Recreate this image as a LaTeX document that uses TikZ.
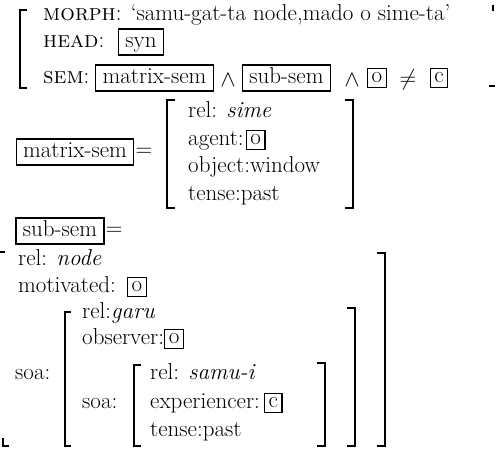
\RequirePackage{fix-cm}
\documentclass[tikz,border=0pt]{standalone}
\usetikzlibrary{positioning}

\begin{document}
\begin{tikzpicture}[x=1pt, y=-1pt,
      every node/.style = {font=\fontsize{23}{26}\selectfont},
      feat/.style = {anchor=west, inner sep=0pt, text height=15pt, text depth=5pt},
      tagbox/.style = {draw, line width=1.1pt, inner xsep=7pt, inner ysep=3pt, text height=15pt, text depth=5pt},
      refbox/.style = {draw, line width=1.1pt, inner xsep=4pt, inner ysep=3pt, text height=11pt, text depth=2pt},
      sym/.style = {inner sep=0pt},
      brack/.style = {line width=1.1pt}
      ]
      \useasboundingbox (0,0) rectangle (496,448);
      % top structure
      \node[feat] (morph) at (43,15) {\textsc{morph}: `samu-gat-ta node,mado o sime-ta'};
      \node[feat] (head) at (43,42) {\textsc{head}:};
      \node[tagbox] (syn) at (141,42) {syn};
      \node[feat] (sem) at (43,78) {\textsc{sem}:};
      \node[tagbox] (msemA) at (154.5,78) {matrix-sem};
      \node[sym] (andA) at (228,80) {$\wedge$};
      \node[tagbox] (ssemA) at (286.5,78) {sub-sem};
      \node[sym] (andB) at (352,80) {$\wedge$};
      \node[refbox] (oA) at (377,78) {o};
      \node[sym] (neq) at (408,80) {$\neq$};
      \node[refbox] (cA) at (439,78) {c};
      \draw[brack] (27,10) -| (20,88) -- (27,88);
      \draw[brack] (493,5) -- (493,11);
      \draw[brack] (489,86) -- (495,86);
      % matrix-sem
      \node[tagbox] (msemB) at (75,152) {matrix-sem};
      \node[sym, right=1pt of msemB] (eqA) {$=$};
      \node[feat] (relA) at (188,112) {rel: \textit{sime}};
      \node[feat] (agent) at (188,140) {agent:};
      \node[refbox, right=2pt of agent] (oB) {o};
      \node[feat] (object) at (188,167) {object:window};
      \node[feat] (tenseA) at (188,195) {tense:past};
      \draw[brack] (175,100) -| (167,208) -- (175,208);
      \draw[brack] (345,100) -| (353,208) -- (345,208);
      % sub-sem
      \node[tagbox] (ssemB) at (60,231) {sub-sem};
      \node[sym, right=1pt of ssemB] (eqB) {$=$};
      \node[feat] (relB) at (18,260) {rel: \textit{node}};
      \node[feat] (motiv) at (18,287) {motivated:};
      \node[refbox, right=11pt of motiv] (oC) {o};
      \node[feat] (relC) at (82,313) {rel:\textit{garu}};
      \node[feat] (observer) at (82,339) {observer:};
      \node[refbox, right=0pt of observer] (oD) {o};
      \node[feat] (soaA) at (15,374) {soa:};
      \node[feat] (soaB) at (82,403) {soa:};
      \node[feat] (relD) at (150,374) {rel: \textit{samu-i}};
      \node[feat] (exper) at (150,403) {experiencer:};
      \node[refbox, right=4pt of exper] (cB) {c};
      \node[feat] (tenseB) at (150,431) {tense:past};
      \draw[brack] (0,252) -- (5,252);
      \draw[brack] (3,438) |- (9,446);
      \draw[brack] (377,253) -| (385,446) -- (377,446);
      \draw[brack] (71,312) -| (65,446) -- (71,446);
      \draw[brack] (347,308) -| (355,446) -- (347,446);
      \draw[brack] (141,365) -| (134,446) -- (141,446);
      \draw[brack] (317,363) -| (325,446) -- (317,446);
\end{tikzpicture}
\end{document}
